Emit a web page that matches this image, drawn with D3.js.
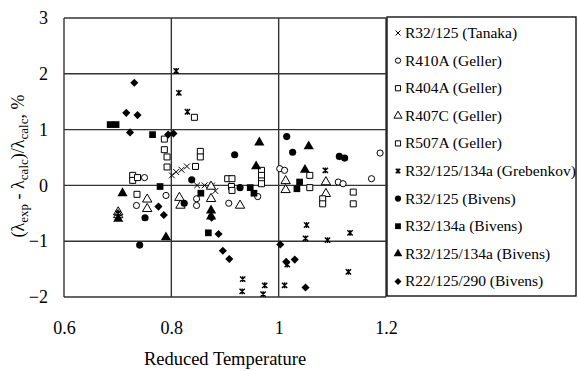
<!DOCTYPE html>
<html>
<head>
<meta charset="utf-8">
<script src="https://cdn.jsdelivr.net/npm/d3@7"></script>
<style>
  body { margin: 0; background: #fff; }
  svg { font-family: "Liberation Serif", "Times New Roman", serif; }
</style>
</head>
<body>
<svg id="chart" width="578" height="371"></svg>
<script>
// data: [reduced temperature, deviation %]
const tanaka = [[0.801, 0.18], [0.809, 0.24], [0.819, 0.28], [0.829, 0.34], [0.848, 0.0], [0.862, 0.0], [0.876, 0.0], [0.882, -0.1]];
const r410a = [[0.750, 0.14], [0.735, -0.36], [0.790, -0.18], [0.847, -0.24], [0.847, -0.36], [0.907, -0.32], [0.961, -0.2],
  [1.002, 0.3], [1.011, 0.27], [1.111, 0.06], [1.120, 0.03], [1.173, 0.12], [1.189, 0.58]];
const r404a = [[0.787, 0.83], [0.787, 0.64], [0.792, 0.51], [0.792, 0.33], [0.843, 1.22], [0.854, 0.61], [0.854, 0.51], [0.845, 0.34],
  [0.968, 0.27], [0.968, 0.18], [0.968, 0.08], [0.968, 0.03], [1.058, 0.18], [1.058, -0.04]];
const r407c = [[0.701, -0.48], [0.701, -0.53], [0.755, -0.25], [0.755, -0.42], [0.815, -0.22], [0.817, -0.36], [0.874, -0.02], [0.874, -0.24],
  [0.928, -0.36], [1.013, 0.08], [1.013, -0.08], [1.088, 0.06], [1.088, -0.15]];
const r507a = [[0.728, 0.18], [0.728, 0.09], [0.737, 0.14], [0.736, -0.16], [0.905, 0.12], [0.913, 0.12], [0.912, -0.02], [0.913, -0.09],
  [1.082, -0.24], [1.082, -0.33], [1.139, -0.12], [1.139, -0.33]];
const grebenkov = [[0.809, 2.05], [0.814, 1.66], [0.830, 1.32], [0.701, -0.5], [0.874, -0.5], [0.933, -1.68], [0.932, -1.9], [0.974, -1.79],
  [0.971, -1.95], [1.011, -1.79], [1.016, -1.42], [1.052, -0.71], [1.050, -0.95], [1.087, 0.27], [1.091, -0.98], [1.133, -0.85], [1.130, -1.55]];
const bivens125 = [[0.838, 0.1], [0.918, 0.55], [1.015, 0.875], [1.026, 0.595], [1.113, 0.52], [1.123, 0.49], [0.751, -0.58],
  [0.741, -1.07], [0.824, -0.32], [0.928, -0.04]];
const bivens134a = [[0.686, 1.09], [0.697, 1.09], [0.765, 0.91], [0.779, -0.02], [0.855, -0.14], [0.869, -0.85], [0.947, -0.04],
  [0.954, -0.14], [1.034, -0.06], [1.039, 0.06]];
const bivens3 = [[0.964, 0.77], [0.958, 0.34], [1.056, 0.7], [1.049, 0.28], [0.709, -0.14], [0.701, -0.6], [0.790, -0.93],
  [0.874, -0.45], [0.874, -0.56]];
const bivens290 = [[0.731, 1.84], [0.716, 1.3], [0.737, 1.26], [0.723, 0.95], [0.794, 0.91], [0.804, 0.93], [0.776, -0.38], [0.786, -0.53],
  [0.875, -0.58], [0.888, -0.87], [0.896, -1.17], [0.908, -1.32], [1.003, -1.06], [1.014, -1.37], [1.030, -1.33], [1.050, -1.83]];

const xTicks = [0.6, 0.8, 1, 1.2];
const yTicks = [-2, -1, 0, 1, 2, 3];

// excel-style star marker: an x with a vertical bar
const symbolStar = {
  draw(ctx, size) {
    const r = Math.sqrt(size) / 2;
    ctx.moveTo(-r, -r); ctx.lineTo(r, r);
    ctx.moveTo(r, -r); ctx.lineTo(-r, r);
    ctx.moveTo(0, -r * 1.1); ctx.lineTo(0, r * 1.1);
  }
};

const series = [
  { name: 'R32/125 (Tanaka)', data: tanaka, type: d3.symbolX, size: 24, fill: 'none', stroke: '#000', sw: 1 },
  { name: 'R410A (Geller)', data: r410a, type: d3.symbolCircle, size: 30, fill: '#fff', stroke: '#000', sw: 1 },
  { name: 'R404A (Geller)', data: r404a, type: d3.symbolSquare, size: 36, fill: '#fff', stroke: '#000', sw: 1 },
  { name: 'R407C (Geller)', data: r407c, type: d3.symbolTriangle, size: 38, fill: '#fff', stroke: '#000', sw: 1 },
  { name: 'R507A (Geller)', data: r507a, type: d3.symbolSquare, size: 36, fill: '#fff', stroke: '#000', sw: 1 },
  { name: 'R32/125/134a (Grebenkov)', data: grebenkov, type: symbolStar, size: 28, fill: 'none', stroke: '#000', sw: 1.4 },
  { name: 'R32/125 (Bivens)', data: bivens125, type: d3.symbolCircle, size: 40, fill: '#000', stroke: '#000', sw: 0 },
  { name: 'R32/134a (Bivens)', data: bivens134a, type: d3.symbolSquare, size: 45, fill: '#000', stroke: '#000', sw: 0 },
  { name: 'R32/125/134a (Bivens)', data: bivens3, type: d3.symbolTriangle, size: 45, fill: '#000', stroke: '#000', sw: 0 },
  { name: 'R22/125/290 (Bivens)', data: bivens290, type: d3.symbolDiamond2, size: 42, fill: '#000', stroke: '#000', sw: 0 }
];

const svg = d3.select('#chart');
const plotLeft = 64, plotRight = 386, plotTop = 18, plotBottom = 297;

const x = d3.scaleLinear().domain([0.6, 1.2]).range([plotLeft, plotRight]);
const y = d3.scaleLinear().domain([-2, 3]).range([plotBottom, plotTop]);

// grid
svg.append('g')
  .selectAll('line')
  .data(yTicks)
  .join('line')
  .attr('x1', plotLeft).attr('x2', plotRight)
  .attr('y1', d => y(d)).attr('y2', d => y(d))
  .attr('stroke', '#333').attr('stroke-width', 1.4);

svg.append('g')
  .selectAll('line')
  .data(xTicks)
  .join('line')
  .attr('x1', d => x(d)).attr('x2', d => x(d))
  .attr('y1', plotTop).attr('y2', plotBottom)
  .attr('stroke', '#333').attr('stroke-width', 1.4);

// axes (labels only, lines drawn as grid)
const xAxis = d3.axisBottom(x).tickValues(xTicks).tickSize(0).tickPadding(0).tickFormat(d3.format('~g'));
svg.append('g')
  .attr('transform', `translate(0,${plotBottom + 24})`)
  .call(xAxis)
  .attr('font-family', null)
  .call(g => g.select('.domain').remove())
  .selectAll('text')
  .attr('font-size', 18).attr('fill', '#000');

const yAxis = d3.axisLeft(y).tickValues(yTicks).tickSize(0).tickPadding(0).tickFormat(d3.format('d'));
svg.append('g')
  .attr('transform', `translate(${plotLeft - 16},0)`)
  .call(yAxis)
  .attr('font-family', null)
  .call(g => g.select('.domain').remove())
  .selectAll('text')
  .attr('font-size', 18).attr('fill', '#000');

// points
series.forEach(s => {
  svg.append('g')
    .selectAll('path')
    .data(s.data)
    .join('path')
    .attr('transform', d => `translate(${x(d[0])},${y(d[1])})`)
    .attr('d', d3.symbol().type(s.type).size(s.size))
    .attr('fill', s.fill)
    .attr('stroke', s.stroke)
    .attr('stroke-width', s.sw);
});

// axis titles
svg.append('text')
  .attr('x', (plotLeft + plotRight) / 2).attr('y', 365)
  .attr('text-anchor', 'middle')
  .attr('font-size', 18.5)
  .text('Reduced Temperature');

const yt = svg.append('text')
  .attr('transform', 'translate(24,166) rotate(-90)')
  .attr('text-anchor', 'middle')
  .attr('font-size', 18);
yt.append('tspan').text('(λ');
yt.append('tspan').attr('font-size', 13).attr('dy', 4).text('exp');
yt.append('tspan').attr('dy', -4).text(' - λ');
yt.append('tspan').attr('font-size', 13).attr('dy', 4).text('calc');
yt.append('tspan').attr('dy', -4).text(')/λ');
yt.append('tspan').attr('font-size', 13).attr('dy', 4).text('calc');
yt.append('tspan').attr('dy', -4).text(', %');

// legend
const lg = svg.append('g');
lg.append('rect')
  .attr('x', 387).attr('y', 17).attr('width', 189).attr('height', 279)
  .attr('fill', '#fff').attr('stroke', '#000').attr('stroke-width', 1.3);

const rows = lg.selectAll('g.item')
  .data(series)
  .join('g')
  .attr('class', 'item')
  .attr('transform', (d, i) => `translate(398,${33 + i * 27.6})`);

rows.append('path')
  .attr('d', d => d3.symbol().type(d.type).size(d.size * 0.75)())
  .attr('fill', d => d.fill)
  .attr('stroke', d => d.stroke)
  .attr('stroke-width', d => d.sw);

rows.append('text')
  .attr('x', 7).attr('y', 5)
  .attr('font-size', 15.5)
  .text(d => d.name);
</script>
</body>
</html>
